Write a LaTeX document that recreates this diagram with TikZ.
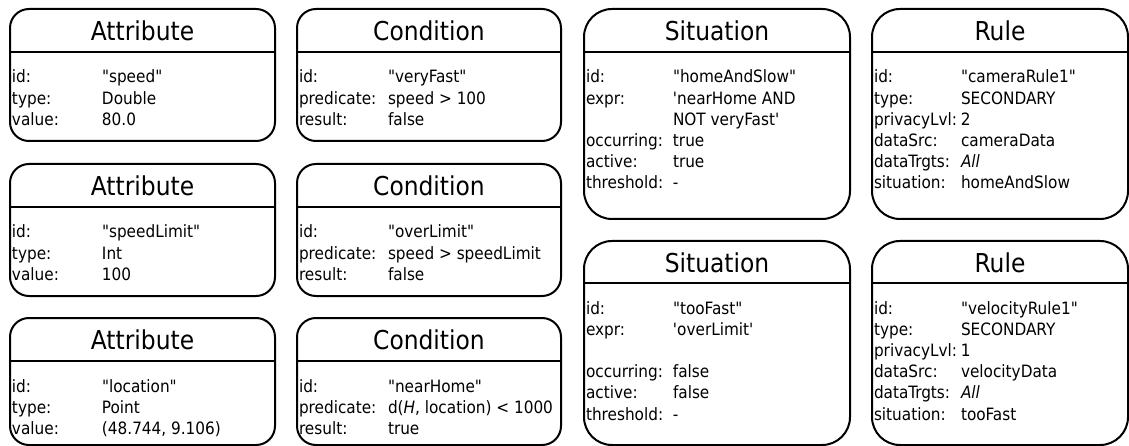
\documentclass[tikz,border=0pt]{standalone}
\usepackage{fontspec}
\setmainfont{DejaVu Sans Condensed}
\usepackage{array}

\begin{document}
\begin{tikzpicture}[x=1pt,y=-1pt,line width=2pt,
  box/.style={draw,rounded corners=#1,anchor=north west,inner sep=0pt},
  title/.style={font=\fontsize{26}{26}\selectfont,inner sep=0pt},
  fields/.style={font=\fontsize{17}{21.2}\selectfont,inner sep=0pt,anchor=base west}]
  \useasboundingbox (0,0) rectangle (1129,446);
  % widths of the four columns:
  \pgfmathsetmacro\wattr{265}
  \pgfmathsetmacro\wcond{264}
  \pgfmathsetmacro\wsit{266}
  \pgfmathsetmacro\wrule{256}
  % attribute boxes:
  \node[box=19pt,minimum width=\wattr pt,minimum height=132pt] (speed) at (9,8) {};
  \draw ([yshift=-44pt]speed.north west) -- ([yshift=-44pt]speed.north east);
  \node[title] (speed-t) at ([yshift=-23pt]speed.north) {Attribute};
  \node[fields] (speed-f) at ([xshift=2pt,yshift=-75pt]speed.north west)
    {\begin{tabular}[t]{@{}p{90pt}@{}l@{}}id: & \textquotedbl speed\textquotedbl\\type: & Double\\value: & 80.0\end{tabular}};
  \node[box=19pt,minimum width=\wattr pt,minimum height=132pt] (limit) at (9,163) {};
  \draw ([yshift=-44pt]limit.north west) -- ([yshift=-44pt]limit.north east);
  \node[title] (limit-t) at ([yshift=-23pt]limit.north) {Attribute};
  \node[fields] (limit-f) at ([xshift=2pt,yshift=-75pt]limit.north west)
    {\begin{tabular}[t]{@{}p{90pt}@{}l@{}}id: & \textquotedbl speedLimit\textquotedbl\\type: & Int\\value: & 100\end{tabular}};
  \node[box=19pt,minimum width=\wattr pt,minimum height=127pt] (location) at (9,317) {};
  \draw ([yshift=-44pt]location.north west) -- ([yshift=-44pt]location.north east);
  \node[title] (location-t) at ([yshift=-23pt]location.north) {Attribute};
  \node[fields] (location-f) at ([xshift=2pt,yshift=-75pt]location.north west)
    {\begin{tabular}[t]{@{}p{90pt}@{}l@{}}id: & \textquotedbl location\textquotedbl\\type: & Point\\value: & (48.744, 9.106)\end{tabular}};
  % condition boxes:
  \node[box=19pt,minimum width=\wcond pt,minimum height=132pt] (veryfast) at (296,8) {};
  \draw ([yshift=-44pt]veryfast.north west) -- ([yshift=-44pt]veryfast.north east);
  \node[title] (veryfast-t) at ([yshift=-23pt]veryfast.north) {Condition};
  \node[fields] (veryfast-f) at ([xshift=2pt,yshift=-75pt]veryfast.north west)
    {\begin{tabular}[t]{@{}p{89pt}@{}l@{}}id: & \textquotedbl veryFast\textquotedbl\\predicate: & speed > 100\\result: & false\end{tabular}};
  \node[box=19pt,minimum width=\wcond pt,minimum height=132pt] (overlimit) at (296,163) {};
  \draw ([yshift=-44pt]overlimit.north west) -- ([yshift=-44pt]overlimit.north east);
  \node[title] (overlimit-t) at ([yshift=-23pt]overlimit.north) {Condition};
  \node[fields] (overlimit-f) at ([xshift=2pt,yshift=-75pt]overlimit.north west)
    {\begin{tabular}[t]{@{}p{89pt}@{}l@{}}id: & \textquotedbl overLimit\textquotedbl\\predicate: & speed > speedLimit\\result: & false\end{tabular}};
  \node[box=19pt,minimum width=\wcond pt,minimum height=127pt] (nearhome) at (296,317) {};
  \draw ([yshift=-44pt]nearhome.north west) -- ([yshift=-44pt]nearhome.north east);
  \node[title] (nearhome-t) at ([yshift=-23pt]nearhome.north) {Condition};
  \node[fields] (nearhome-f) at ([xshift=2pt,yshift=-75pt]nearhome.north west)
    {\begin{tabular}[t]{@{}p{89pt}@{}l@{}}id: & \textquotedbl nearHome\textquotedbl\\predicate: & d(\textit{H}, location) < 1000\\result: & true\end{tabular}};
  % situation boxes:
  \node[box=28pt,minimum width=\wsit pt,minimum height=210pt] (homeslow) at (583,8) {};
  \draw ([yshift=-44pt]homeslow.north west) -- ([yshift=-44pt]homeslow.north east);
  \node[title] (homeslow-t) at ([yshift=-23pt]homeslow.north) {Situation};
  \node[fields] (homeslow-f) at ([xshift=2pt,yshift=-75pt]homeslow.north west)
    {\begin{tabular}[t]{@{}p{87pt}@{}l@{}}id: & \textquotedbl homeAndSlow\textquotedbl\\expr: & \textquotesingle nearHome AND\\
     & NOT veryFast\textquotesingle\\occurring: & true\\active: & true\\threshold: & -\end{tabular}};
  \node[box=28pt,minimum width=\wsit pt,minimum height=204pt] (toofast) at (583,240) {};
  \draw ([yshift=-43pt]toofast.north west) -- ([yshift=-43pt]toofast.north east);
  \node[title] (toofast-t) at ([yshift=-23pt]toofast.north) {Situation};
  \node[fields] (toofast-f) at ([xshift=2pt,yshift=-74pt]toofast.north west)
    {\begin{tabular}[t]{@{}p{87pt}@{}l@{}}id: & \textquotedbl tooFast\textquotedbl\\expr: & \textquotesingle overLimit\textquotesingle\\
     & \\occurring: & false\\active: & false\\threshold: & -\end{tabular}};
  % rule boxes:
  \node[box=28pt,minimum width=\wrule pt,minimum height=210pt] (camrule) at (871,8) {};
  \draw ([yshift=-44pt]camrule.north west) -- ([yshift=-44pt]camrule.north east);
  \node[title] (camrule-t) at ([yshift=-23pt]camrule.north) {Rule};
  \node[fields] (camrule-f) at ([xshift=2pt,yshift=-75pt]camrule.north west)
    {\begin{tabular}[t]{@{}p{87pt}@{}l@{}}id: & \textquotedbl cameraRule1\textquotedbl\\type: & SECONDARY\\privacyLvl: & 2\\
     dataSrc: & cameraData\\dataTrgts: & \textit{All}\\situation: & homeAndSlow\end{tabular}};
  \node[box=28pt,minimum width=\wrule pt,minimum height=204pt] (velrule) at (871,240) {};
  \draw ([yshift=-43pt]velrule.north west) -- ([yshift=-43pt]velrule.north east);
  \node[title] (velrule-t) at ([yshift=-23pt]velrule.north) {Rule};
  \node[fields] (velrule-f) at ([xshift=2pt,yshift=-74pt]velrule.north west)
    {\begin{tabular}[t]{@{}p{87pt}@{}l@{}}id: & \textquotedbl velocityRule1\textquotedbl\\type: & SECONDARY\\privacyLvl: & 1\\
     dataSrc: & velocityData\\dataTrgts: & \textit{All}\\situation: & tooFast\end{tabular}};
\end{tikzpicture}
\end{document}
